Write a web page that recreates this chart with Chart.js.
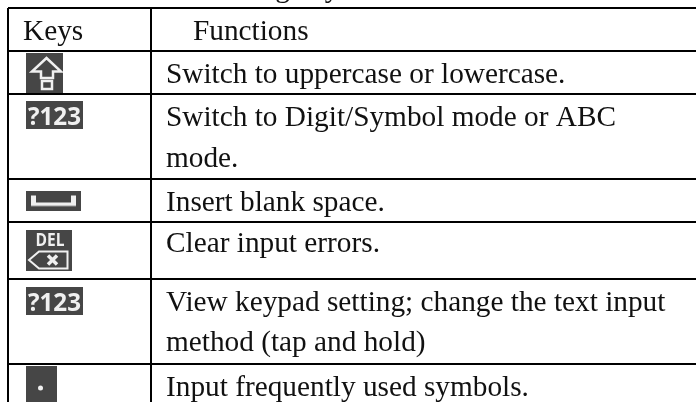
<!DOCTYPE html>
<html>
<head>
<meta charset="utf-8">
<style>
  html, body { margin: 0; padding: 0; background: #fff; }
  #wrap { width: 696px; height: 402px; }
</style>
<script src="https://cdn.jsdelivr.net/npm/chart.js@4/dist/chart.umd.min.js"></script>
</head>
<body>
<div id="wrap"><canvas id="keysTable" width="696" height="402"></canvas></div>
<script>
// table content, top level
const columnEdges = [0, 143];
const rowEdges = [0, 43, 86, 171, 214, 271, 356];

const headerLabels = ['Keys', 'Functions'];
const functionLines = [
  'Switch to uppercase or lowercase.',
  'Switch to Digit/Symbol mode or ABC',
  'mode.',
  'Insert blank space.',
  'Clear input errors.',
  'View keypad setting; change the text input',
  'method (tap and hold)',
  'Input frequently used symbols.'
];
const functionBaselines = [75, 118, 159, 203, 244, 303, 343, 388];
const keyNames = ['shift', 'symbols', 'space', 'del', 'symbols', 'dot'];
const keyCentersX = [36.5, 46.5, 45.5, 41, 46.5, 33.5];
const keyCentersY = [65, 107, 192.5, 242.5, 293, 376];
const captionText = 'The following keys';

function makeIcon(w, h, paint) {
  const c = document.createElement('canvas');
  c.width = w;
  c.height = h;
  const g = c.getContext('2d');
  g.fillStyle = '#464646';
  g.fillRect(0, 0, w, h);
  g.fillStyle = '#f0f0f0';
  g.strokeStyle = '#f0f0f0';
  paint(g);
  return c;
}

const icons = {
  shift: makeIcon(37, 40, g => {
    g.lineWidth = 2.5;
    g.beginPath();
    g.moveTo(20.5, 5);
    g.lineTo(35, 18.5);
    g.lineTo(27, 18.5);
    g.lineTo(27, 25);
    g.lineTo(15, 25);
    g.lineTo(15, 18.5);
    g.lineTo(6, 18.5);
    g.closePath();
    g.stroke();
    g.strokeRect(16, 28, 10, 8);
  }),
  symbols: makeIcon(57, 28, g => {
    g.font = 'bold 25px "Open Sans"';
    g.textAlign = 'center';
    g.textBaseline = 'alphabetic';
    g.fillText('?123', 28.5, 24, 53);
  }),
  space: makeIcon(55, 20, g => {
    g.fillRect(5, 5, 5, 10);
    g.fillRect(45, 5, 5, 10);
    g.fillRect(5, 12, 45, 3.5);
  }),
  del: makeIcon(46, 41, g => {
    g.font = 'bold 17px "Open Sans"';
    g.textAlign = 'center';
    g.textBaseline = 'alphabetic';
    g.fillText('DEL', 24, 16, 29);
    g.lineWidth = 2;
    g.beginPath();
    g.moveTo(3, 30);
    g.lineTo(13, 21.5);
    g.lineTo(41.5, 21.5);
    g.lineTo(41.5, 38.5);
    g.lineTo(13, 38.5);
    g.closePath();
    g.stroke();
    g.lineWidth = 3.5;
    g.beginPath();
    g.moveTo(22, 25.5);
    g.lineTo(31, 34.5);
    g.moveTo(31, 25.5);
    g.lineTo(22, 34.5);
    g.stroke();
  }),
  dot: makeIcon(31, 36, g => {
    g.beginPath();
    g.arc(14.5, 22, 2.5, 0, Math.PI * 2);
    g.fill();
  })
};

// header and function text is placed through the scales
const tableText = {
  id: 'tableText',
  afterDraw(chart) {
    const { ctx, scales: { x, y } } = chart;
    ctx.save();
    ctx.fillStyle = '#111';
    ctx.font = '29.3px "Liberation Serif"';
    ctx.textBaseline = 'alphabetic';
    ctx.fillText(headerLabels[0], x.getPixelForValue(15), y.getPixelForValue(32));
    ctx.fillText(headerLabels[1], x.getPixelForValue(185), y.getPixelForValue(32));
    functionLines.forEach((line, i) => {
      ctx.fillText(line, x.getPixelForValue(158), y.getPixelForValue(functionBaselines[i]));
    });
    ctx.fillText(captionText, x.getPixelForValue(115), y.getPixelForValue(-11));
    ctx.restore();
  }
};

new Chart(document.getElementById('keysTable'), {
  type: 'scatter',
  data: {
    datasets: [{
      data: keyCentersX.map((kx, i) => ({ x: kx, y: keyCentersY[i] })),
      pointStyle: keyNames.map(n => icons[n]),
      clip: false
    }]
  },
  options: {
    responsive: false,
    animation: false,
    layout: { autoPadding: false, padding: { left: 8, top: 8 } },
    plugins: { legend: { display: false }, title: { display: false }, tooltip: { enabled: false } },
    scales: {
      x: {
        type: 'linear',
        min: 0,
        max: 688,
        border: { display: false },
        grid: { color: '#000', lineWidth: 2, drawTicks: false },
        ticks: { display: false },
        afterBuildTicks: s => { s.ticks = columnEdges.map(v => ({ value: v })); }
      },
      y: {
        type: 'linear',
        min: 0,
        max: 394,
        reverse: true,
        border: { display: false },
        grid: { color: '#000', lineWidth: 2, drawTicks: false },
        ticks: { display: false },
        afterBuildTicks: s => { s.ticks = rowEdges.map(v => ({ value: v })); }
      }
    }
  },
  plugins: [tableText]
});
</script>
</body>
</html>
